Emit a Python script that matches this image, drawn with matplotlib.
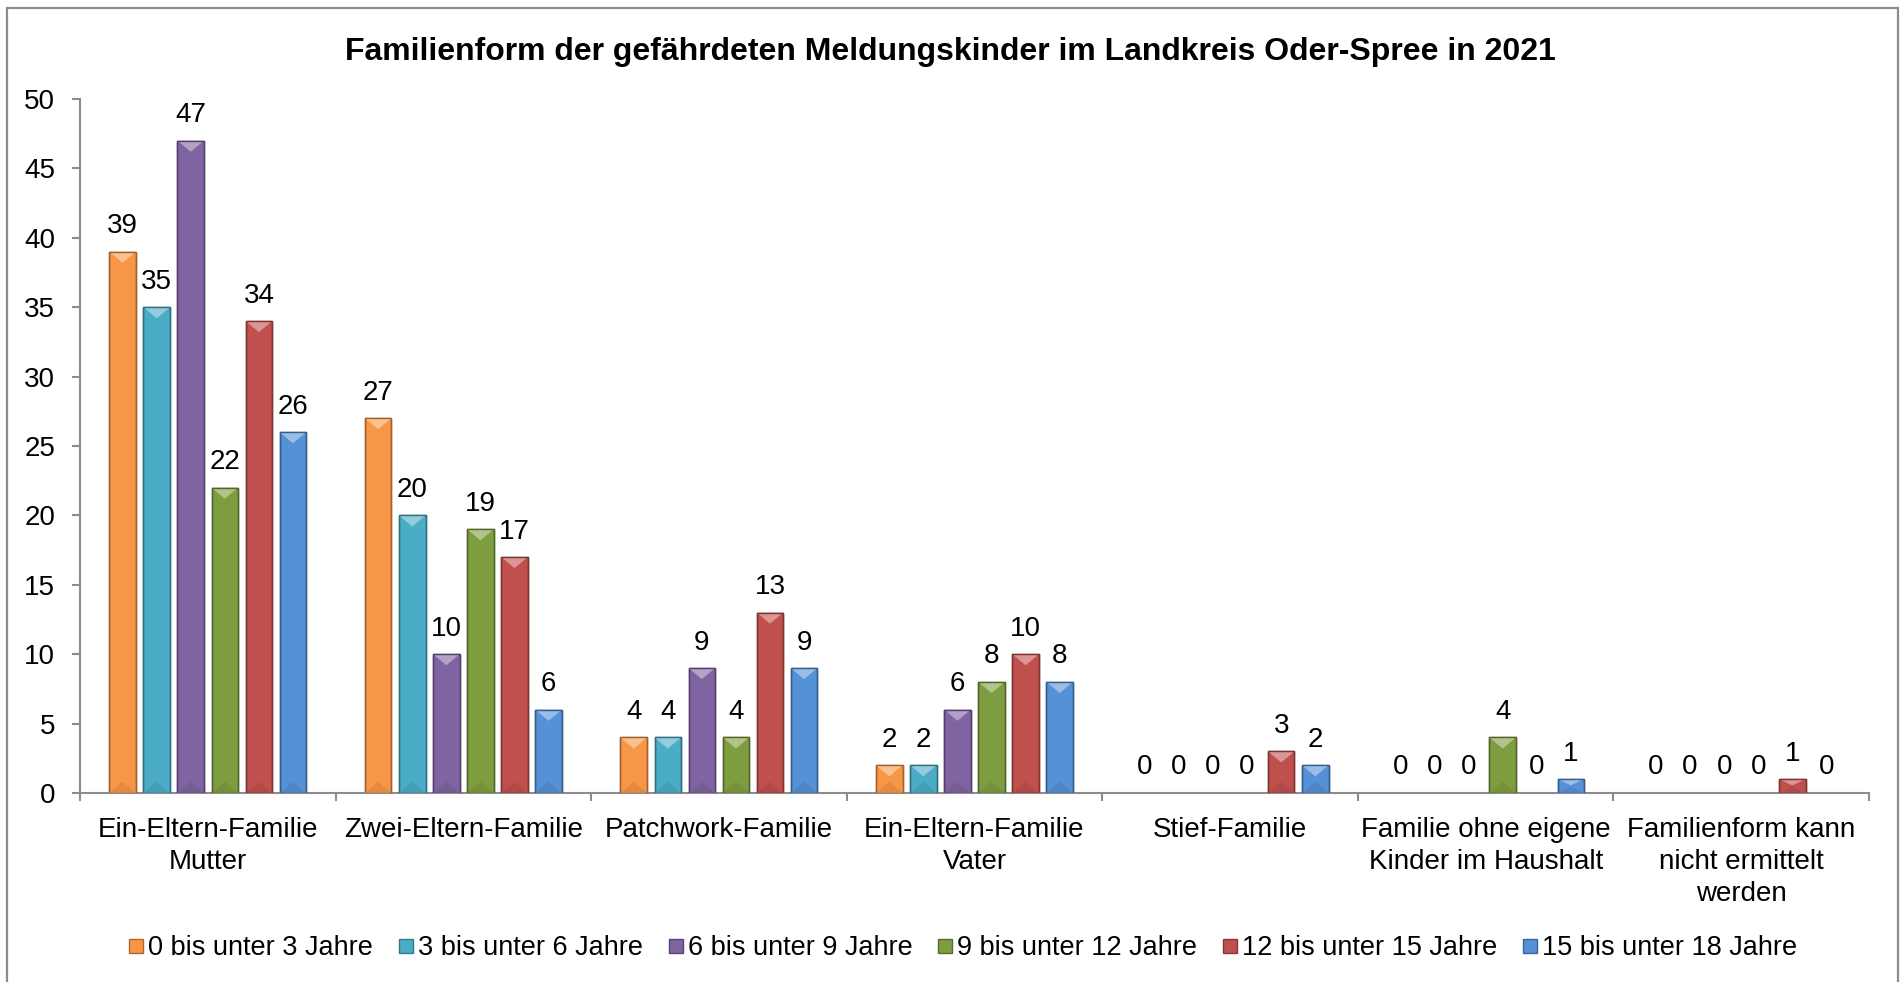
import matplotlib
matplotlib.use("Agg")
import matplotlib.pyplot as plt
import numpy as np
from matplotlib.patches import Polygon, Rectangle
from matplotlib.lines import Line2D
from matplotlib.colors import to_rgb

plt.rcParams['font.family'] = ['Liberation Sans', 'DejaVu Sans']

categories = ["Ein-Eltern-Familie\nMutter", "Zwei-Eltern-Familie", "Patchwork-Familie",
              "Ein-Eltern-Familie\nVater", "Stief-Familie",
              "Familie ohne eigene\nKinder im Haushalt",
              "Familienform kann\nnicht ermittelt\nwerden"]
series_names = ["0 bis unter 3 Jahre", "3 bis unter 6 Jahre", "6 bis unter 9 Jahre",
                "9 bis unter 12 Jahre", "12 bis unter 15 Jahre", "15 bis unter 18 Jahre"]
v_0_3 = [39, 27, 4, 2, 0, 0, 0]
v_3_6 = [35, 20, 4, 2, 0, 0, 0]
v_6_9 = [47, 10, 9, 6, 0, 0, 0]
v_9_12 = [22, 19, 4, 8, 0, 4, 0]
v_12_15 = [34, 17, 13, 10, 3, 0, 1]
v_15_18 = [26, 6, 9, 8, 2, 1, 0]
series_values = [v_0_3, v_3_6, v_6_9, v_9_12, v_12_15, v_15_18]
colors = ["#F79646", "#4BACC6", "#8064A2", "#7E9C40", "#C0504D", "#5591D6"]
title = "Familienform der gefährdeten Meldungskinder im Landkreis Oder-Spree in 2021"

W, H = 1901, 982
fig = plt.figure(figsize=(W / 100, H / 100), dpi=100)
fig.patch.set_facecolor("white")

# outer frame
fig.patches.append(Rectangle((7 / W, -0.01), (1898 - 7) / W, 1 - 8 / H + 0.01,
                             transform=fig.transFigure, fill=False,
                             edgecolor="#8c8c8c", linewidth=1.6))

ax = fig.add_axes([80 / W, 1 - 793 / H, (1869 - 80) / W, (793 - 99) / H])

def blend(c, other, t):
    c = np.array(to_rgb(c)); o = np.array(to_rgb(other))
    return tuple(c * (1 - t) + o * t)

n = len(series_values)
x = np.arange(len(categories))
pitch = 0.8 / n
bw = 0.104
fs = 20
for i, (vals, col) in enumerate(zip(series_values, colors)):
    offs = (i - (n - 1) / 2) * pitch
    bars = ax.bar(x + offs, vals, width=bw, color=col,
                  edgecolor=blend(col, "black", 0.35), linewidth=1.0, zorder=2)
    for rect, v in zip(bars, vals):
        x0 = rect.get_x(); x1 = x0 + rect.get_width(); xc = (x0 + x1) / 2
        if v > 0:
            d = min(0.8, v * 0.45)
            ax.add_patch(Polygon([(x0, v), (x1, v), (xc, v - d)], closed=True,
                                 facecolor=blend(col, "white", 0.4), edgecolor="none", zorder=3))
            ax.add_patch(Polygon([(x0, 0), (x1, 0), (xc, d)], closed=True,
                                 facecolor=blend(col, "black", 0.08), edgecolor="none", zorder=3))
            ax.add_patch(Rectangle((x0, 0), rect.get_width(), v, fill=False,
                                   edgecolor=blend(col, "black", 0.35), linewidth=1.0, zorder=4))
        ax.annotate(str(v), (xc, v), xytext=(0, 9), textcoords="offset points",
                    ha="center", va="bottom", fontsize=fs, color="black")

ax.set_xlim(-0.5, len(categories) - 0.5)
ax.set_ylim(0, 50)
ax.set_yticks(np.arange(0, 51, 5))
ax.set_xticks(np.arange(len(categories) + 1) - 0.5)
ax.set_xticklabels([])
ax.set_xticks(x, minor=True)
ax.set_xticklabels(categories, minor=True, fontsize=fs, linespacing=1.3)
ax.tick_params(axis="x", which="minor", length=0, pad=17)
ax.tick_params(axis="x", which="major", length=6, width=1.5, color="#8c8c8c", direction="out")
ax.tick_params(axis="y", length=6, width=1.5, color="#8c8c8c", labelsize=fs, pad=12, direction="out")
for s in ["top", "right"]:
    ax.spines[s].set_visible(False)
for s in ["left", "bottom"]:
    ax.spines[s].set_color("#8c8c8c")
    ax.spines[s].set_linewidth(1.5)

fig.text(0.5, 1 - 60 / H, title, ha="center", va="baseline", fontsize=23, fontweight="bold")

handles = [Line2D([], [], marker="s", linestyle="none", markersize=10,
                  markerfacecolor=c, markeredgecolor=blend(c, "black", 0.3)) for c in colors]
fig.legend(handles, series_names, loc="center", bbox_to_anchor=(0.5 + 12 / W, 1 - 948 / H),
           ncol=6, frameon=False, fontsize=19.5, handlelength=0.6, handletextpad=0.15,
           columnspacing=0.9, borderaxespad=0)

fig.savefig("out.png", dpi=100)
